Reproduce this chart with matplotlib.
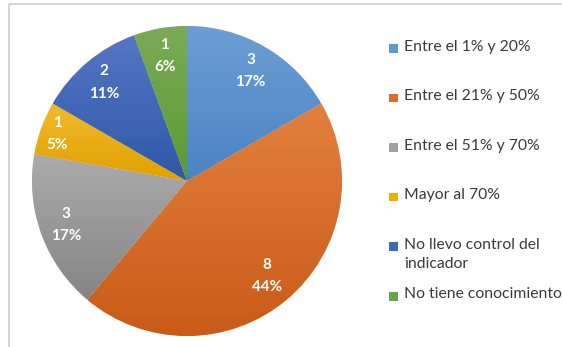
import numpy as np
import matplotlib

matplotlib.use("Agg")
import matplotlib.pyplot as plt
from matplotlib.colors import LinearSegmentedColormap, to_rgb
from matplotlib.patches import Rectangle

plt.rcParams["font.family"] = ["Lato", "DejaVu Sans"]

# survey answers: how far the indicator has progressed
categories = [
    "Entre el 1% y 20%",
    "Entre el 21% y 50%",
    "Entre el 51% y 70%",
    "Mayor al 70%",
    "No llevo control del\nindicador",
    "No tiene conocimiento",
]
counts = [3, 8, 3, 1, 2, 1]
pct_labels = ["17%", "44%", "17%", "5%", "11%", "6%"]

# office-style fills, light at the top of each slice and darker at the bottom
top_colors = ["#6c9ed4", "#e3803f", "#ababab", "#f2ba2c", "#5576c4", "#7aab57"]
bottom_colors = ["#4a83c3", "#c95a17", "#858585", "#dfa100", "#2f58a8", "#5b9a32"]
base_colors = ["#5b9bd5", "#e06c26", "#a0a0a0", "#f0b000", "#4068b8", "#68a544"]

W, H = 562, 347
fig = plt.figure(figsize=(W / 100, H / 100), dpi=100, facecolor="white")

# overlay in pixel units for the frame and the legend
over = fig.add_axes([0, 0, 1, 1])
over.set_xlim(0, W)
over.set_ylim(H, 0)
over.axis("off")
over.add_patch(Rectangle((9, 4), W, H, fill=False, edgecolor="#d0d0d0", lw=1.2))

# pie: centre (187, 181) px, radius 155 px
cx, cy, r = 187, 181, 155
ax = fig.add_axes([(cx - r) / W, (H - cy - r) / H, 2 * r / W, 2 * r / H])
wedges, _ = ax.pie(
    counts,
    colors=base_colors,
    startangle=90,
    counterclock=False,
    radius=1,
    wedgeprops={"edgecolor": "white", "linewidth": 0.4},
)
ax.set_aspect("equal")
ax.axis("off")

grad = np.linspace(0, 1, 256).reshape(-1, 1)
for w, c_top, c_bot in zip(wedges, top_colors, bottom_colors):
    verts = w.get_path().vertices
    x0, y0 = verts.min(axis=0)
    x1, y1 = verts.max(axis=0)
    cmap = LinearSegmentedColormap.from_list("g", [to_rgb(c_top), to_rgb(c_bot)])
    im = ax.imshow(grad, cmap=cmap, extent=[x0, x1, y0, y1], origin="upper",
                   aspect="auto", zorder=w.get_zorder() + 0.1)
    im.set_clip_path(w)
ax.set_xlim(-1, 1)
ax.set_ylim(-1, 1)

# value + percentage labels inside each slice
label_dist = [0.82, 0.80, 0.83, 0.89, 0.83, 0.82]
for w, n, p, d in zip(wedges, counts, pct_labels, label_dist):
    mid = np.deg2rad((w.theta1 + w.theta2) / 2)
    ax.text(d * np.cos(mid), d * np.sin(mid), f"{n}\n{p}", ha="center", va="center",
            color="white", fontsize=11, fontweight="bold", linespacing=1.75, zorder=10)

# legend, one slot every ~49.6 px
for i, (lab, col) in enumerate(zip(categories, base_colors)):
    y = 48.5 + 49.6 * i
    over.add_patch(Rectangle((389, y - 4.5), 8.5, 8.5, facecolor=col, edgecolor="none"))
    over.text(404, y - 9, lab, ha="left", va="top", fontsize=11.3, color="#3a3a3a",
              linespacing=1.45)

fig.savefig("out.png", dpi=100, facecolor="white")
